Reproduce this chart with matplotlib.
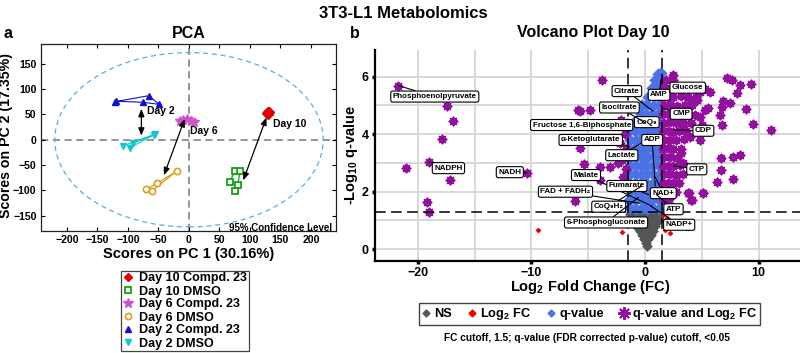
import numpy as np
import matplotlib
matplotlib.use("Agg")
import matplotlib.pyplot as plt
from matplotlib.patches import Ellipse
from matplotlib.lines import Line2D

plt.rcParams['font.family'] = ['Liberation Sans', 'DejaVu Sans']
plt.rcParams['font.weight'] = 'bold'
plt.rcParams['mathtext.fontset'] = 'custom'
plt.rcParams['mathtext.rm'] = 'Liberation Sans:bold'
plt.rcParams['mathtext.bf'] = 'Liberation Sans:bold'
plt.rcParams['mathtext.it'] = 'Liberation Sans:bold'
plt.rcParams['mathtext.default'] = 'bf'

# ---------------- PCA data (scores) ----------------
d10c_x = [128, 131, 129, 130]
d10c_y = [53, 55, 51, 54]
d10d_x = [67, 75, 84, 80, 76]
d10d_y = [-83, -62, -61, -89, -101]
d6c_x = [-15, -10, -3, 3, 9]
d6c_y = [37, 39, 41, 38, 35]
d6d_x = [-71, -52, -19, -61]
d6d_y = [-98, -86, -61, -101]
d2c_x = [-122, -66, -49, -76, -119]
d2c_y = [75, 87, 70, 74, 76]
d2d_x = [-108, -56, -97, -91, -58]
d2d_y = [-12, 11, -16, -6, 9]
pca_labels = ['Day 10 Compd. 23', 'Day 10 DMSO', 'Day 6 Compd. 23',
              'Day 6 DMSO', 'Day 2 Compd. 23', 'Day 2 DMSO']
pc1_var = 30.16
pc2_var = 17.35

# ---------------- Volcano data (log2FC, -log10 q) ----------------
ns_x = [-1.3, -0.9, -0.5, -0.1, 0.3, 0.7, 1.1, 1.4,
        -1.15, -0.75, -0.35, 0.05, 0.45, 0.85, 1.2,
        -0.95, -0.55, -0.15, 0.25, 0.65, 1.05,
        -0.7, -0.3, 0.1, 0.5, 0.85,
        -0.45, -0.05, 0.35, 0.7,
        -0.25, 0.15, 0.5,
        -0.1, 0.3, 0.1, 0.2]
ns_y = [1.24, 1.22, 1.25, 1.23, 1.24, 1.22, 1.25, 1.21,
        1.08, 1.1, 1.07, 1.09, 1.1, 1.08, 1.06,
        0.93, 0.95, 0.92, 0.94, 0.93, 0.95,
        0.78, 0.8, 0.79, 0.77, 0.8,
        0.64, 0.66, 0.63, 0.65,
        0.5, 0.51, 0.49,
        0.36, 0.37, 0.22, 0.12]

fc_x = [-9.38, -2.05, 1.9, 1.76, 2.2, 3.8, 2.0, 1.6]
fc_y = [0.66, 0.61, 1.08, 0.67, 0.56, 0.73, 0.9, 1.2]

q_x = [-1.3, -0.8, -0.3, 0.2, 0.7, 1.2,
       -1.4, -0.9, -0.4, 0.1, 0.6, 1.1, 1.4,
       -1.2, -0.7, -0.2, 0.3, 0.8, 1.3,
       -1.4, -0.9, -0.4, 0.1, 0.6, 1.1,
       -1.3, -0.8, -0.3, 0.2, 0.7, 1.2,
       -1.4, -0.9, -0.4, 0.1, 0.6, 1.1, 1.4,
       -1.2, -0.7, -0.2, 0.3, 0.8, 1.3,
       -1.4, -0.9, -0.4, 0.1, 0.6, 1.1,
       -1.3, -0.8, -0.3, 0.2, 0.7, 1.2,
       -1.4, -0.9, -0.4, 0.1, 0.6, 1.1, 1.4,
       -1.1, -0.6, -0.1, 0.4, 0.9, 1.3,
       -0.4, 0.1, 0.6, 1.1, 1.4,
       -0.3, 0.2, 0.7, 1.2,
       0.3, 0.8, 1.3,
       0.6, 1.0, 1.4,
       0.9, 1.3,
       1.1, 1.4]
q_y = [1.42, 1.4, 1.44, 1.41, 1.43, 1.4,
       1.72, 1.7, 1.74, 1.69, 1.71, 1.73, 1.7,
       2.02, 2.0, 2.03, 1.98, 2.01, 2.0,
       2.31, 2.29, 2.32, 2.3, 2.28, 2.31,
       2.6, 2.62, 2.59, 2.61, 2.6, 2.58,
       2.9, 2.88, 2.91, 2.9, 2.89, 2.92, 2.9,
       3.2, 3.21, 3.19, 3.22, 3.2, 3.18,
       3.5, 3.52, 3.49, 3.5, 3.51, 3.48,
       3.8, 3.79, 3.82, 3.8, 3.81, 3.79,
       4.1, 4.12, 4.09, 4.1, 4.11, 4.08, 4.1,
       4.4, 4.41, 4.39, 4.42, 4.4, 4.38,
       4.7, 4.71, 4.69, 4.72, 4.7,
       5.0, 5.01, 4.99, 5.02,
       5.3, 5.31, 5.29,
       5.6, 5.61, 5.58,
       5.88, 5.9,
       6.1, 6.12]

both_x = [
    # far left
    -21.7, -17.4, -16.9, -17.9, -19.0, -21.0, -17.15, -19.2, -19.0,
    -10.4, -6.16, -5.7, -5.7, -5.87, -4.84, -3.8, -5.4, -3.96, -3.08, -3.96,
    # near left threshold
    -1.7, -2.0, -1.7, -2.2, -1.8, -1.6, -2.1, -1.9, -2.4, -2.6, -1.75,
    # dense right cluster
    1.7, 2.1,
    1.7, 2.2, 2.7,
    1.6, 2.0, 2.5, 3.0,
    1.7, 2.2, 2.7, 3.3,
    1.6, 2.0, 2.5, 3.1,
    1.7, 2.2, 2.8,
    1.6, 2.0, 2.5, 3.2,
    1.7, 2.2, 2.7, 3.4,
    1.6, 2.0, 2.5, 3.0, 3.6,
    1.7, 2.2, 2.7, 3.3, 4.0,
    1.6, 2.0, 2.5, 3.0, 3.6, 4.4,
    1.7, 2.2, 2.8, 3.5, 4.1,
    1.6, 2.0, 2.5, 3.2, 3.8, 4.5,
    1.7, 2.3, 3.0, 3.9, 4.8, 5.3,
    1.8, 2.5, 2.49,
    # right scattered
    4.55, 5.28, 4.84, 5.57, 4.99, 3.37, 3.96, 4.84, 3.2, 3.37, 4.25, 5.72, 4.84,
    7.19, 7.62, 8.36, 9.32, 8.06, 6.83, 7.48, 8.88, 6.74, 6.6, 6.74, 9.47, 11.05,
    6.66, 7.77, 8.36, 6.66, 6.3, 7.77, 5.07, 3.9, 4.04, 3.8, 5.13, 4.1]
both_y = [
    5.69, 4.99, 4.47, 3.85, 3.04, 2.82, 2.41, 1.63, 1.31,
    2.66, 1.66, 4.82, 3.52, 4.85, 4.85, 5.89, 2.97, 2.86, 2.87, 2.41,
    2.8, 3.1, 3.5, 3.7, 4.0, 4.4, 4.5, 2.5, 3.0, 3.3, 2.2,
    1.7, 1.75,
    2.0, 2.02, 1.98,
    2.3, 2.32, 2.29, 2.31,
    2.6, 2.62, 2.59, 2.6,
    2.9, 2.91, 2.89, 2.92,
    3.2, 3.21, 3.19,
    3.5, 3.52, 3.49, 3.5,
    3.8, 3.81, 3.79, 3.82,
    4.1, 4.11, 4.09, 4.12, 4.1,
    4.4, 4.41, 4.39, 4.42, 4.4,
    4.7, 4.71, 4.69, 4.72, 4.7, 4.68,
    5.0, 5.01, 4.99, 5.02, 5.0,
    5.3, 5.31, 5.29, 5.32, 5.3, 5.28,
    5.6, 5.61, 5.59, 5.62, 5.6, 5.58,
    5.88, 5.9, 6.06,
    5.19, 4.85, 4.61, 4.9, 4.32, 4.27, 3.92, 3.8, 3.34, 2.99, 5.13, 5.48, 5.48,
    5.95, 5.89, 5.71, 5.75, 5.43, 5.17, 5.08, 4.88, 4.94, 4.67, 4.32, 4.35, 4.15,
    3.17, 3.22, 3.28, 2.76, 2.35, 2.43, 1.97, 1.97, 1.71, 1.95, 1.97, 1.71]

lab_names = ['Phosphoenolpyruvate', 'NADPH', 'NADH', 'FAD + FADH\u2082', 'Malate',
             'Fumarate', 'NAD+', 'ATP', 'NADP+', 'CoQ\u2089H\u2082', '6-Phosphogluconate',
             'CTP', 'Lactate', 'ADP', '\u03b1-Ketoglutarate', 'Fructose 1,6-Biphosphate',
             'CoQ\u2089', 'Isocitrate', 'Citrate', 'AMP', 'Glucose', 'CMP', 'CDP']
lab_fc = [-21.7, -19.0, -10.4, -0.5, 0.6, 0.3, 0.9, 1.0, 0.5, -0.3, -0.6,
          2.5, 0.5, 0.9, -1.5, -1.2, 0.8, 0.0, 0.7, 1.4, 2.2, 1.6, 2.5]
lab_q = [5.69, 3.04, 2.66, 1.6, 1.5, 1.9, 2.5, 1.9, 1.5, 2.2, 1.8,
         2.9, 3.9, 2.2, 3.6, 4.2, 4.4, 4.4, 4.8, 5.9, 5.7, 4.9, 4.15]
# label box positions (layout)
lab_px = [-18.5, -17.3, -11.9, -7.0, -5.2, -1.6, 1.6, 2.5, 3.0, -3.2, -3.43,
          4.55, -2.05, 0.62, -4.78, -5.58, 0.15, -2.26, -1.6, 1.23, 3.75, 3.17, 5.13]
lab_py = [5.31, 2.82, 2.68, 2.0, 2.58, 2.2, 1.95, 1.39, 0.85, 1.48, 0.93,
          2.78, 3.27, 3.8, 3.8, 4.32, 4.42, 4.93, 5.5, 5.37, 5.62, 4.71, 4.12]

fc_cut = 1.5
q_cut = 0.05

# ---------------- figure ----------------
W, H = 800, 353
fig = plt.figure(figsize=(8.0, 3.53), dpi=100)

def fx(px):
    return px / W

def fy(py):
    return 1 - py / H

# ----- PCA panel -----
ax1 = fig.add_axes([fx(40.7), fy(231), fx(336) - fx(40.7), fy(44) - fy(231)])
ax1.set_xlim(-243, 241)
ax1.set_ylim(-180, 189)
ax1.axhline(0, color='#8c8c8c', ls=(0, (4, 2.5)), lw=1.3, zorder=1)
ax1.axvline(0, color='#8c8c8c', ls=(0, (4, 2.5)), lw=1.3, zorder=1)
ax1.add_patch(Ellipse((0, 0), 440, 344, fill=False, ec='#5aaee0', lw=0.9,
                      ls=(0, (4, 3)), zorder=1))

ax1.plot(d10c_x, d10c_y, color='#e00000', marker='D', ms=5, mfc='#e00000', mec='#e00000', lw=0.8)
ax1.plot(d10d_x, d10d_y, color='#14a014', marker='s', ms=3.8, mfc='white', mec='#14a014', mew=1.3, lw=0.9)
ax1.plot(d6c_x, d6c_y, color='#cc55cc', marker='*', ms=7, mfc='#cc55cc', mec='#cc55cc', lw=0.8)
ax1.plot(d6d_x, d6d_y, color='#d8a020', marker='o', ms=4.5, mfc='white', mec='#d8a020', mew=1.2, lw=0.9)
ax1.plot(d2c_x, d2c_y, color='#1010d0', marker='^', ms=5, mfc='#1010d0', mec='#1010d0', lw=0.8)
ax1.plot(d2d_x, d2d_y, color='#10c8d0', marker='v', ms=5, mfc='#10c8d0', mec='#10c8d0', lw=0.8)

arrow_kw = dict(arrowstyle='<|-|>,head_length=0.45,head_width=0.18', color='black', lw=0.9,
                shrinkA=0, shrinkB=0)
ax1.annotate('', xy=(-78, 61), xytext=(-78, 8), arrowprops=arrow_kw)
ax1.annotate('', xy=(-7, 41), xytext=(-41, -70), arrowprops=arrow_kw)
ax1.annotate('', xy=(127, 44), xytext=(89, -80), arrowprops=arrow_kw)
ax1.text(-68, 57, 'Day 2', fontsize=7.5, fontweight='bold', va='center', ha='left')
ax1.text(2, 17, 'Day 6', fontsize=7.5, fontweight='bold', va='center', ha='left')
ax1.text(137, 32, 'Day 10', fontsize=7.5, fontweight='bold', va='center', ha='left')
ax1.text(234, -174, '95% Confidence Level', fontsize=7, fontweight='bold', ha='right', va='center')

ax1.set_xticks(np.arange(-200, 201, 50))
ax1.set_yticks(np.arange(-150, 151, 50))
ax1.tick_params(direction='in', top=True, right=True, length=3, width=0.8,
                labelsize=7.6, pad=3)
for lab in ax1.get_xticklabels() + ax1.get_yticklabels():
    lab.set_fontweight('bold')
for s in ax1.spines.values():
    s.set_linewidth(0.9)
    s.set_color('#222222')

fig.text(fx(189), fy(33), 'PCA', fontsize=11.5, fontweight='bold', ha='center', va='center')
fig.text(fx(3), fy(33), 'a', fontsize=11.5, fontweight='bold', ha='left', va='center')
fig.text(fx(189), fy(254), 'Scores on PC 1 (%.2f%%)' % pc1_var, fontsize=10.5,
         fontweight='bold', ha='center', va='center')
fig.text(fx(6.5), fy(135), 'Scores on PC 2 (%.2f%%)' % pc2_var, fontsize=10.2,
         fontweight='bold', ha='center', va='center', rotation=90)

leg_handles = [
    Line2D([], [], ls='none', marker='D', ms=4.5, mfc='#e00000', mec='#e00000'),
    Line2D([], [], ls='none', marker='s', ms=4, mfc='white', mec='#14a014', mew=1.3),
    Line2D([], [], ls='none', marker='*', ms=7, mfc='#cc55cc', mec='#cc55cc'),
    Line2D([], [], ls='none', marker='o', ms=4.5, mfc='white', mec='#d8a020', mew=1.2),
    Line2D([], [], ls='none', marker='^', ms=5, mfc='#1010d0', mec='#1010d0'),
    Line2D([], [], ls='none', marker='v', ms=5, mfc='#10c8d0', mec='#10c8d0'),
]
leg1 = fig.legend(leg_handles, pca_labels, loc='upper left', bbox_to_anchor=(fx(121), fy(271)),
                  fancybox=False, edgecolor='#444444', framealpha=1, borderpad=0.12,
                  labelspacing=0.08, handlelength=0.9, handletextpad=0.45, borderaxespad=0,
                  prop={'size': 9.0, 'weight': 'bold'})
leg1.get_frame().set_linewidth(0.9)

# ----- Volcano panel -----
ax2 = fig.add_axes([fx(375), fy(260.7), 1.0 - fx(375), fy(50) - fy(260.7)])
ax2.set_xlim(-23.76, 13.63)
ax2.set_ylim(-0.4, 6.93)
ax2.set_xticks([-20, -10, 0, 10])
ax2.set_yticks([0, 2, 4, 6])
ax2.set_xticks(np.arange(-20, 14, 5), minor=True)
ax2.set_yticks(np.arange(0, 7, 1), minor=True)
ax2.grid(True, which='both', color='#d6d6d6', lw=1.3, zorder=0)
ax2.set_axisbelow(True)
ax2.tick_params(which='major', direction='out', length=2.5, width=2.5, labelsize=9, pad=2)
ax2.tick_params(which='minor', length=0)
for lab in ax2.get_xticklabels() + ax2.get_yticklabels():
    lab.set_fontweight('bold')
ax2.spines['top'].set_visible(False)
ax2.spines['right'].set_visible(False)
ax2.spines['left'].set_linewidth(1.6)
ax2.spines['bottom'].set_linewidth(1.6)

purple = '#930f9e'
blue = '#4a72e4'
gray = '#555555'
red = '#ee0000'

ax2.scatter(ns_x, ns_y, marker='D', s=30, color=gray, linewidths=0, zorder=2)
ax2.scatter(fc_x, fc_y, marker='D', s=9, color=red, linewidths=0, zorder=2)
ax2.scatter(q_x, q_y, marker='D', s=40, color=blue, linewidths=0, zorder=2)
ax2.scatter(both_x, both_y, marker='o', s=11, color=purple, linewidths=0, zorder=3)
ax2.scatter(both_x, both_y, marker=(8, 2, 0), s=32, color=purple, linewidths=1.4, zorder=3)

dash = (0, (7, 3.5))
ax2.axvline(-fc_cut, color='black', ls=dash, lw=1.1, zorder=4)
ax2.axvline(fc_cut, color='black', ls=dash, lw=1.1, zorder=4)
ax2.axhline(-np.log10(q_cut), color='black', ls=dash, lw=1.1, zorder=4)

for name, tx, ty, lx, ly in zip(lab_names, lab_fc, lab_q, lab_px, lab_py):
    ax2.annotate(name, xy=(tx, ty), xytext=(lx, ly), fontsize=5.8, fontweight='bold',
                 ha='center', va='center', zorder=6,
                 bbox=dict(boxstyle='round,pad=0.25,rounding_size=0.25', fc='white', ec='black', lw=0.8),
                 arrowprops=dict(arrowstyle='-', color='black', lw=0.8, shrinkA=0, shrinkB=0))

fig.text(fx(593), fy(33), 'Volcano Plot Day 10', fontsize=11.5, fontweight='bold', ha='center', va='center')
fig.text(fx(350), fy(33), 'b', fontsize=11.5, fontweight='bold', ha='left', va='center')
fig.text(fx(590), fy(287), 'Log$_2$ Fold Change (FC)', fontsize=10.5, fontweight='bold',
         ha='center', va='center')
fig.text(fx(351), fy(155), '-Log$_{10}$ q-value', fontsize=10.5, fontweight='bold',
         ha='center', va='center', rotation=90)
fig.text(fx(403), fy(13), '3T3-L1 Metabolomics', fontsize=12, fontweight='bold',
         ha='center', va='center')

vh = [
    Line2D([], [], ls='none', marker='D', ms=3.5, color=gray),
    Line2D([], [], ls='none', marker='D', ms=3.5, color=red),
    Line2D([], [], ls='none', marker='D', ms=3.5, color=blue),
    Line2D([], [], ls='none', marker=(8, 2, 0), ms=9, color=purple, mew=1.5),
]
vl = ['NS', 'Log$_2$ FC', 'q-value', 'q-value and Log$_2$ FC']
leg2 = fig.legend(vh, vl, loc='center', bbox_to_anchor=(fx(589.5), fy(314)), ncol=4,
                  fancybox=False, edgecolor='#444444', framealpha=1, borderpad=0.2,
                  handlelength=0.7, handletextpad=0.3, columnspacing=1.2, borderaxespad=0,
                  prop={'size': 9.2, 'weight': 'bold'})
leg2.get_frame().set_linewidth(1.0)

fig.text(fx(587), fy(338), 'FC cutoff, 1.5; q-value (FDR corrected p-value) cutoff, <0.05',
         fontsize=7.3, fontweight='bold', ha='center', va='center')

fig.savefig('out.png', dpi=100)
